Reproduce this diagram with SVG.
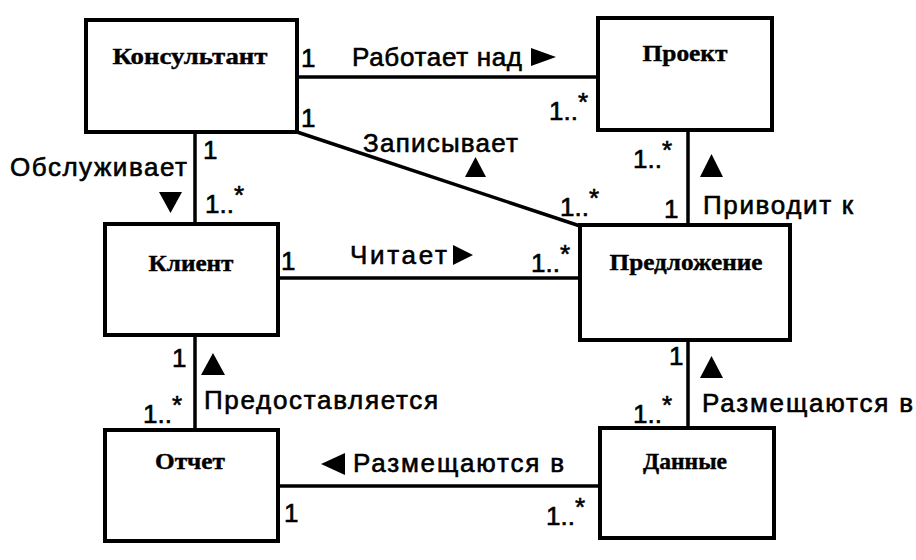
<svg xmlns="http://www.w3.org/2000/svg" width="916" height="560" viewBox="0 0 916 560">
<style>
.box{fill:#fff;stroke:#000;stroke-width:4}
.cls{font-family:"Liberation Serif","Times New Roman",serif;font-weight:bold;font-size:23px;text-anchor:middle;fill:#000;stroke:#000;stroke-width:0.4}
.lbl{font-family:"Liberation Sans",Arial,sans-serif;font-size:26px;fill:#000;stroke:#000;stroke-width:0.6}
.con line{stroke:#000;stroke-width:3.5;fill:none}
.tri{fill:#000}
</style>
<rect width="916" height="560" fill="#fff"/>
<g id="connectors" class="con">
<line x1="297" y1="77" x2="598" y2="77"/>
<line x1="297" y1="132" x2="580" y2="226"/>
<line x1="195" y1="132" x2="195" y2="224"/>
<line x1="688" y1="130" x2="688" y2="225"/>
<line x1="278" y1="278" x2="580" y2="278"/>
<line x1="195" y1="335" x2="195" y2="430"/>
<line x1="688" y1="340" x2="688" y2="428"/>
<line x1="278" y1="486" x2="600" y2="486"/>
</g>
<g id="node-konsultant"><rect class="box" x="86" y="20" width="211" height="112"/><text class="cls" x="190" y="64" textLength="155" lengthAdjust="spacingAndGlyphs">Консультант</text></g>
<g id="node-proekt"><rect class="box" x="598" y="18" width="174" height="112"/><text class="cls" x="685" y="61" textLength="85" lengthAdjust="spacingAndGlyphs">Проект</text></g>
<g id="node-klient"><rect class="box" x="105" y="224" width="173" height="111"/><text class="cls" x="191" y="271" textLength="85" lengthAdjust="spacingAndGlyphs">Клиент</text></g>
<g id="node-predlozhenie"><rect class="box" x="580" y="225" width="210" height="115"/><text class="cls" x="686" y="270" textLength="153" lengthAdjust="spacingAndGlyphs">Предложение</text></g>
<g id="node-otchet"><rect class="box" x="105" y="430" width="173" height="111"/><text class="cls" x="190" y="469" textLength="70" lengthAdjust="spacingAndGlyphs">Отчет</text></g>
<g id="node-dannye"><rect class="box" x="600" y="428" width="174" height="110"/><text class="cls" x="685" y="469" textLength="84" lengthAdjust="spacingAndGlyphs">Данные</text></g>
<g id="labels">
<text class="lbl" x="352" y="66" textLength="170">Работает над</text>
<polygon class="tri" points="531,48 556,57 531,66"/>
<text class="lbl" x="363" y="152" textLength="155">Записывает</text>
<polygon class="tri" points="465,177 475.5,157 486,177"/>
<text class="lbl" x="10" y="176" textLength="177">Обслуживает</text>
<polygon class="tri" points="159,192 182,192 170.5,213"/>
<text class="lbl" x="350" y="264" textLength="97">Читает</text>
<polygon class="tri" points="453,245 473,255 453,265"/>
<text class="lbl" x="703" y="214" textLength="150">Приводит к</text>
<polygon class="tri" points="700,177 711.5,154 723,177"/>
<text class="lbl" x="204" y="409" textLength="234">Предоставляется</text>
<polygon class="tri" points="201,375 213,353 225,375"/>
<text class="lbl" x="702" y="412" textLength="211">Размещаются в</text>
<polygon class="tri" points="700,378 711.5,356 723,378"/>
<text class="lbl" x="353" y="472" textLength="211">Размещаются в</text>
<polygon class="tri" points="345,453 321,464 345,475"/>
</g>
<g id="multiplicities">
<text class="lbl" x="301" y="67">1</text>
<text class="lbl" x="301" y="127">1</text>
<text class="lbl" x="549" y="120">1..<tspan dy="-9">*</tspan></text>
<text class="lbl" x="203" y="159">1</text>
<text class="lbl" x="205" y="213">1..<tspan dy="-9">*</tspan></text>
<text class="lbl" x="560" y="216">1..<tspan dy="-9">*</tspan></text>
<text class="lbl" x="633" y="168">1..<tspan dy="-9">*</tspan></text>
<text class="lbl" x="664" y="218">1</text>
<text class="lbl" x="281" y="270">1</text>
<text class="lbl" x="531" y="272">1..<tspan dy="-9">*</tspan></text>
<text class="lbl" x="172" y="367">1</text>
<text class="lbl" x="143" y="423">1..<tspan dy="-9">*</tspan></text>
<text class="lbl" x="669" y="365">1</text>
<text class="lbl" x="633" y="423">1..<tspan dy="-9">*</tspan></text>
<text class="lbl" x="284" y="522">1</text>
<text class="lbl" x="546" y="525">1..<tspan dy="-9">*</tspan></text>
</g>
</svg>
